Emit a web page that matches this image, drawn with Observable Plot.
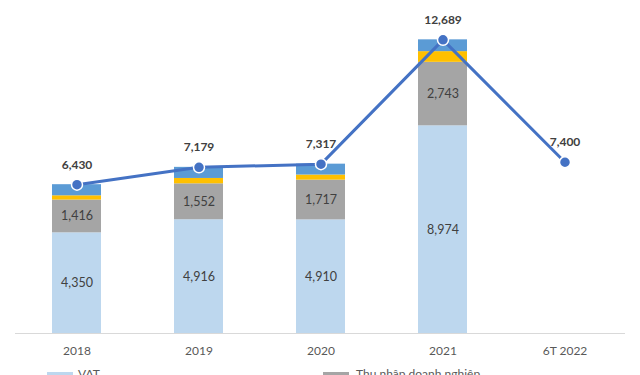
<!DOCTYPE html>
<html>
<head>
<meta charset="utf-8">
<script src="https://cdn.jsdelivr.net/npm/d3@7"></script>
<script src="https://cdn.jsdelivr.net/npm/@observablehq/plot@0.6"></script>
<style>
  html, body { margin: 0; padding: 0; background: #fff; width: 640px; height: 375px; overflow: hidden; position: relative; font-family: Lato, "Open Sans", sans-serif; }
  #chart { position: absolute; left: 0; top: 0; }
  .leg { position: absolute; top: 367px; font-size: 12px; line-height: 14px; color: #595959; white-space: nowrap; }
  .sw { position: absolute; top: 372px; height: 6px; width: 26px; }
</style>
</head>
<body>
<div id="chart"></div>
<div class="sw" style="left:47px;background:#BDD7EE"></div>
<div class="leg" style="left:78px">VAT</div>
<div class="sw" style="left:323px;background:#A5A5A5"></div>
<div class="leg" style="left:356px">Thu nhập doanh nghiệp</div>
<script>
const years = ["2018", "2019", "2020", "2021", "6T 2022"];
const seriesNames = ["VAT", "Thu nhập doanh nghiệp", "Thuế khác 1", "Thuế khác 2"];
const seriesColors = ["#BDD7EE", "#A5A5A5", "#FFC000", "#5B9BD5"];
const vat = [4350, 4916, 4910, 8974];
const tndn = [1416, 1552, 1717, 2743];
const other1 = [184, 231, 220, 462];
const other2 = [480, 480, 470, 510];
const totals = [6430, 7179, 7317, 12689, 7400];

const seriesValues = [vat, tndn, other1, other2];
const rows = [];
seriesValues.forEach((vals, si) => {
  vals.forEach((v, i) => rows.push({year: years[i], series: seriesNames[si], value: v}));
});
const totalRows = totals.map((t, i) => ({year: years[i], total: t}));
const fmt = d3.format(",");

const chart = Plot.plot({
  width: 640,
  height: 360,
  marginLeft: 15,
  marginRight: 15,
  marginTop: 9,
  marginBottom: 27,
  style: {fontFamily: "Lato, 'Open Sans', sans-serif", background: "#fff"},
  x: {domain: years, paddingInner: 0.6, paddingOuter: 0.3, label: null},
  y: {domain: [0, 14000], axis: null},
  color: {domain: seriesNames, range: seriesColors},
  marks: [
    Plot.barY(rows, Plot.stackY({x: "year", y: "value", fill: "series", order: seriesNames})),
    Plot.text(rows, Plot.stackY({
      x: "year", y: "value", order: seriesNames, z: "series",
      text: d => (d.series === "VAT" || d.series === "Thu nhập doanh nghiệp") ? fmt(d.value) : null,
      fill: "#404040", fontSize: 12.5
    })),
    Plot.ruleY([0], {stroke: "#D9D9D9", strokeWidth: 1}),
    Plot.axisX({tickSize: 0, tickPadding: 13, fontSize: 12, color: "#595959"}),
    Plot.line(totalRows, {x: "year", y: "total", stroke: "#4472C4", strokeWidth: 3}),
    Plot.dot(totalRows, {x: "year", y: "total", r: 5.5, fill: "#4472C4", stroke: "#fff", strokeWidth: 1.5}),
    Plot.text(totalRows, {x: "year", y: "total", text: d => fmt(d.total), dy: -20, fontWeight: "bold", fontSize: 12, fill: "#404040"})
  ]
});
document.getElementById("chart").appendChild(chart);
</script>
</body>
</html>
